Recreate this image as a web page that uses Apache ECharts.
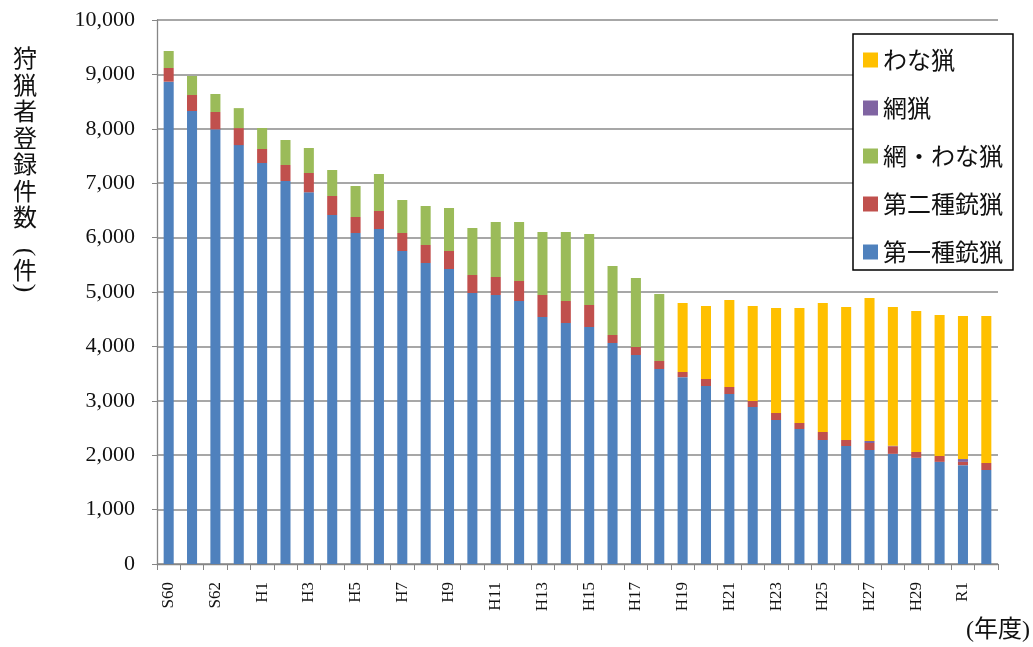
<!DOCTYPE html>
<html>
<head>
<meta charset="utf-8">
<script src="https://cdn.jsdelivr.net/npm/echarts@6/dist/echarts.min.js"></script>
<style>
html,body{margin:0;padding:0;background:#fff;}
#c{width:1033px;height:647px;}
</style>
</head>
<body>
<div id="c"></div>
<script>
var categories = ['S60','S61','S62','S63','H1','H2','H3','H4','H5','H6','H7','H8','H9','H10','H11','H12','H13','H14','H15','H16','H17','H18','H19','H20','H21','H22','H23','H24','H25','H26','H27','H28','H29','H30','R1','R2'];
var gun1 = [8866,8327,7990,7700,7371,7040,6833,6415,6085,6158,5754,5533,5423,4982,4945,4835,4540,4430,4357,4063,3842,3585,3435,3272,3125,2886,2647,2482,2279,2169,2096,2025,1952,1878,1817,1728];
var gun2 = [252,294,319,313,258,295,355,350,294,331,331,331,331,330,331,367,405,405,404,147,147,147,94,129,129,110,129,110,147,110,128,140,107,107,60,129];
var netTrap = [312,350,331,367,386,459,459,478,570,680,606,717,790,864,1011,1085,1158,1268,1305,1268,1268,1231,null,null,null,null,null,null,null,null,null,null,null,null,null,null];
var net = [null,null,null,null,null,null,null,null,null,null,null,null,null,null,null,null,null,null,null,null,null,null,0,0,0,0,0,0,0,0,37,10,0,0,52,0];
var trap = [null,null,null,null,null,null,null,null,null,null,null,null,null,null,null,null,null,null,null,null,null,null,1269,1342,1599,1747,1930,2114,2372,2445,2629,2549,2592,2592,2630,2702];
var seriesNames = ['第一種銃猟','第二種銃猟','網・わな猟','網猟','わな猟'];
var legendOrder = ['わな猟','網猟','網・わな猟','第二種銃猟','第一種銃猟'];
var yTitleMain = '狩猟者登録件数';
var yTitleUnit = ['(', '件', ')'];
var xTitle = '(年度)';

var colors = ['#4F81BD','#C0504D','#9BBB59','#8064A2','#FFC000'];
var seriesData = [gun1, gun2, netTrap, net, trap];
var FONT = "'Liberation Serif', 'Noto Sans CJK JP', serif";

var chart = echarts.init(document.getElementById('c'));
var series = seriesData.map(function(d, i){
  return {
    name: seriesNames[i],
    type: 'bar',
    stack: 'total',
    data: d,
    barCategoryGap: '57%',
    itemStyle: {color: colors[i]},
    emphasis: {disabled: true}
  };
});

chart.setOption({
  animation: false,
  color: colors,
  grid: {left: 157, right: 35, top: 20, bottom: 83, containLabel: false},
  legend: {
    data: legendOrder,
    orient: 'vertical',
    left: 853,
    top: 34,
    padding: [13, 10, 5, 10],
    itemGap: 22,
    itemWidth: 15,
    itemHeight: 15,
    itemTextGap: 11,
    icon: 'rect',
    backgroundColor: '#fff',
    borderColor: '#000',
    borderWidth: 1.5,
    borderRadius: 0,
    textStyle: {fontFamily: "'Noto Sans CJK JP', sans-serif", fontSize: 24, lineHeight: 26, color: '#111'}
  },
  xAxis: {
    type: 'category',
    data: categories,
    axisLine: {lineStyle: {color: '#868686', width: 1.3}},
    axisTick: {show: true, interval: 0, length: 6, lineStyle: {color: '#868686'}},
    axisLabel: {interval: 1, rotate: 90, margin: 18, fontSize: 17, fontFamily: FONT, color: '#111'},
    splitLine: {show: false}
  },
  yAxis: {
    type: 'value',
    min: 0,
    max: 10000,
    interval: 1000,
    axisLine: {show: true, lineStyle: {color: '#868686', width: 1.3}},
    axisTick: {show: true, length: 5, lineStyle: {color: '#868686'}},
    axisLabel: {
      margin: 22, fontSize: 22, fontFamily: FONT, color: '#111',
      formatter: function(v){ return v.toLocaleString('en-US'); }
    },
    splitLine: {lineStyle: {color: '#8a8a8a', width: 1.5}}
  },
  graphic: [
    {
      type: 'text',
      left: 13,
      top: 45,
      style: {
        text: yTitleMain.split('').join('\n'),
        font: "24px 'Noto Sans CJK JP', sans-serif",
        lineHeight: 26.5,
        fill: '#111',
        align: 'center'
      }
    },
    {
      type: 'text',
      x: 25, y: 252,
      rotation: -Math.PI / 2,
      style: {
        text: yTitleUnit[0],
        font: "26px 'Liberation Serif', serif",
        fill: '#111',
        align: 'center',
        verticalAlign: 'middle'
      }
    },
    {
      type: 'text',
      x: 25, y: 270,
      style: {
        text: yTitleUnit[1],
        font: "24px 'Noto Sans CJK JP', sans-serif",
        fill: '#111',
        align: 'center',
        verticalAlign: 'middle'
      }
    },
    {
      type: 'text',
      x: 25, y: 288,
      rotation: -Math.PI / 2,
      style: {
        text: yTitleUnit[2],
        font: "26px 'Liberation Serif', serif",
        fill: '#111',
        align: 'center',
        verticalAlign: 'middle'
      }
    },
    {
      type: 'text',
      right: 3,
      top: 619,
      style: {
        text: xTitle,
        font: "24px 'Liberation Serif', 'Noto Sans CJK JP', serif",
        fill: '#111'
      }
    }
  ],
  series: series
});
</script>
</body>
</html>
